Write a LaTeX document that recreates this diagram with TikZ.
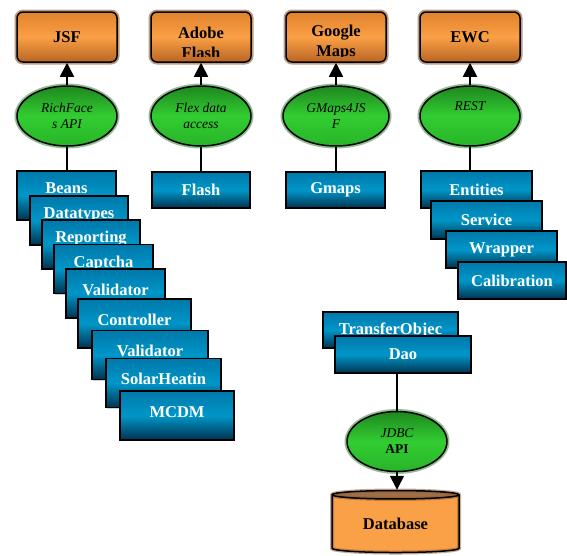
\documentclass[tikz,border=0pt]{standalone}
\usepackage{fontspec}
\setmainfont{Liberation Serif}
\usetikzlibrary{arrows.meta,shapes.geometric,shadows}

\definecolor{orangeTop}{RGB}{225,130,45}
\definecolor{orangeMid}{RGB}{250,160,70}
\definecolor{orangeBot}{RGB}{185,100,35}
\definecolor{orangeGlow}{RGB}{140,90,50}
\definecolor{dbTop}{RGB}{158,112,72}
\definecolor{greenTop}{RGB}{30,135,30}
\definecolor{greenMid}{RGB}{50,205,50}
\definecolor{greenBot}{RGB}{40,180,40}
\definecolor{greenGlow}{RGB}{45,125,45}
\definecolor{blueTop}{RGB}{0,120,170}
\definecolor{blueMid}{RGB}{0,150,200}
\definecolor{blueBot}{RGB}{0,50,80}

\tikzset{
  toolbox/.style={draw=black, line width=1.5pt, rounded corners=6pt,
    top color=orangeTop, bottom color=orangeBot, middle color=orangeMid,
    minimum width=100pt, minimum height=50pt, inner sep=0pt,
    font=\fontsize{16.5}{20}\selectfont\bfseries,
    preaction={draw=orangeGlow, line width=5pt, opacity=.6}},
  apiell/.style={ellipse, draw=black, line width=1.5pt,
    top color=greenTop, bottom color=greenBot, middle color=greenMid,
    minimum width=100pt, minimum height=60pt, inner sep=0pt, align=center,
    font=\fontsize{13.5}{16}\selectfont\itshape, text=black,
    preaction={draw=greenGlow, line width=5pt, opacity=.5}},
  modbox/.style={draw=black, line width=1.5pt,
    top color=blueTop, bottom color=blueBot, middle color=blueMid,
    text=white, font=\fontsize{16.5}{18}\selectfont\bfseries,
    minimum height=37pt, inner sep=0pt,
    drop shadow={shadow xshift=1.2pt, shadow yshift=-1.2pt, fill=black!35}},
  stackbox/.style={modbox, minimum height=49pt, text height=11pt, text depth=15pt},
  lowbox/.style={stackbox, text depth=8pt},
  link/.style={line width=1.6pt},
  uparrow/.style={link, -{Triangle[width=14pt,length=14pt]}},
}

\begin{document}
\begin{tikzpicture}[x=1pt,y=-1pt]
  \useasboundingbox (0,0) rectangle (567,555);

  % frameworks on top
  \node[toolbox] (jsf) at (67,37) {JSF};
  \node[toolbox, path picture={
      \clip (path picture bounding box.north west) rectangle ([yshift=6pt]path picture bounding box.south east);
      \node[align=center] (flashtxt) at ([yshift=-6pt]path picture bounding box.center) {Adobe\\Flash};}] (adobe) at (201,37) {};
  \node[toolbox, path picture={
      \clip (path picture bounding box.north west) rectangle ([yshift=6pt]path picture bounding box.south east);
      \node[align=center] (mapstxt) at ([yshift=-6pt]path picture bounding box.center) {Google\\Maps};}] (google) at (336,37) {};
  \node[toolbox] (ewc) at (470,37) {EWC};

  % access APIs
  \node[apiell] (richfaces) at (67,116) {RichFace\\s API};
  \node[apiell] (flex) at (201,116) {Flex data\\access};
  \node[apiell, minimum width=106pt] (gmapsjsf) at (336,116) {GMaps4JS\\F};
  \node[apiell] (rest) at (470,116) {REST\\\strut};

  % left stack
  \node[stackbox, minimum width=99pt] (beans) at (66.5,195.5) {Beans};
  \node[stackbox, minimum width=98pt] (datatypes) at (79,220.5) {Datatypes};
  \node[stackbox, minimum width=98pt] (reporting) at (91,244.5) {Reporting};
  \node[stackbox, minimum width=99pt] (captcha) at (103.5,269) {Captcha};
  \node[lowbox, minimum width=99pt] (validator) at (115.5,293.5) {Validator};
  \node[lowbox, minimum width=113pt] (controller) at (134.5,323.5) {Controller};
  \node[lowbox, minimum width=116pt] (validatortwo) at (150,355) {Validator};
  \node[lowbox, minimum width=115pt] (solar) at (163.5,383) {SolarHeatin};
  \node[lowbox, minimum width=114pt, text depth=7pt] (mcdm) at (177,415.5) {MCDM};

  % single modules
  \node[modbox, minimum width=98pt, minimum height=36pt] (flash) at (201,190) {Flash};
  \node[modbox, minimum width=99pt, minimum height=36pt] (gmaps) at (335.5,190) {Gmaps};

  % right stack
  \node[modbox, minimum width=111pt] (entities) at (476.5,189.5) {Entities};
  \node[modbox, minimum width=111pt, minimum height=38pt] (service) at (486.5,220) {Service};
  \node[modbox, minimum width=111pt] (wrapper) at (501.5,249.5) {Wrapper};
  \node[modbox, minimum width=108pt] (calibration) at (512,280.5) {Calibration};

  % persistence
  \node[modbox, minimum width=135pt, minimum height=36pt] (transfer) at (390.5,330) {TransferObjec};
  \node[modbox, minimum width=136pt] (dao) at (403,354.5) {Dao};
  \node[apiell] (jdbc) at (397,441.5) {JDBC\\\textup{\bfseries API}};
  \node[cylinder, shape border rotate=90, aspect=0.13, draw=black, line width=1.5pt,
    cylinder uses custom fill, cylinder end fill=dbTop, cylinder body fill=orangeMid,
    preaction={draw=orangeGlow, line width=4pt, opacity=.5},
    minimum width=127pt, minimum height=62pt, inner sep=0pt,
    font=\fontsize{16.5}{18}\selectfont\bfseries] (db) at (395.5,524) {Database};

  % connectors
  \draw[uparrow] (richfaces.north) -- (jsf.south);
  \draw[uparrow] (flex.north) -- (adobe.south);
  \draw[uparrow] (gmapsjsf.north) -- (google.south);
  \draw[uparrow] (rest.north) -- (ewc.south);
  \draw[link] (richfaces.south) -- (richfaces.south |- beans.north);
  \draw[link] (flex.south) -- (flex.south |- flash.north);
  \draw[link] (gmapsjsf.south) -- (gmapsjsf.south |- gmaps.north);
  \draw[link] (rest.south) -- (rest.south |- entities.north);
  \draw[link] (jdbc.north |- dao.south) -- (jdbc.north);
  \draw[link, -{Triangle[width=14pt,length=14pt]}] (jdbc.south) -- (jdbc.south |- db.north);
\end{tikzpicture}
\end{document}
